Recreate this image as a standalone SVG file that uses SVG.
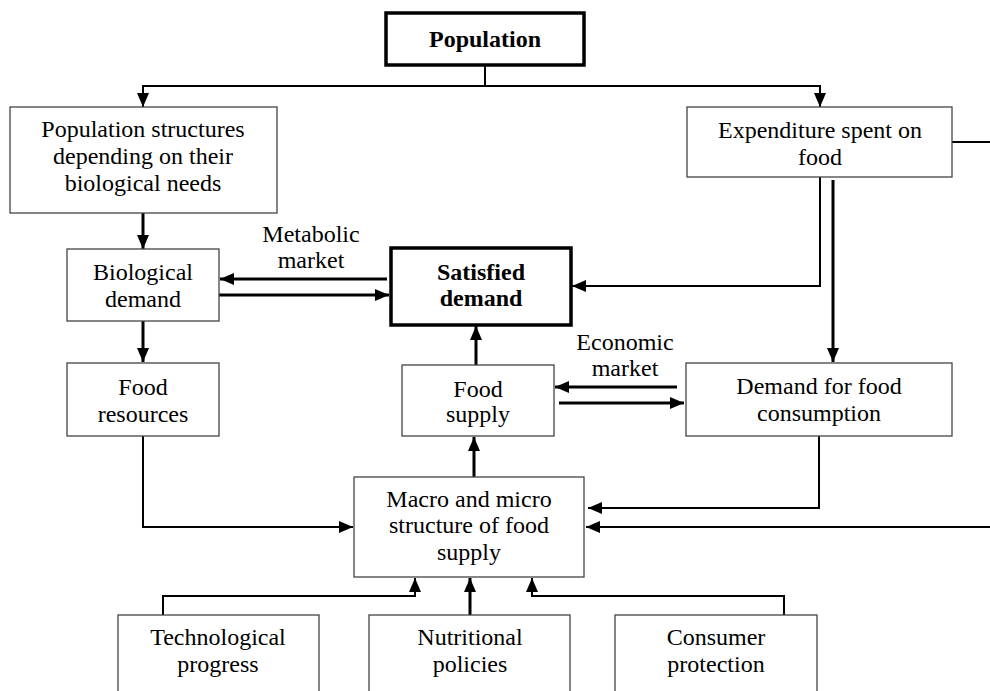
<svg xmlns="http://www.w3.org/2000/svg" width="990" height="691" viewBox="0 0 990 691">
<style>
text{font-family:'Liberation Serif','Tinos','DejaVu Serif',serif;font-size:24px;fill:#000;text-anchor:middle}
.b{font-weight:bold}
.box{fill:#fff;stroke:#444;stroke-width:1.3}
.tbox{fill:#fff;stroke:#000;stroke-width:3.5}
.c{fill:none;stroke:#000;stroke-width:2}
.ct{fill:none;stroke:#000;stroke-width:3}
</style>
<defs>
<marker id="ah" viewBox="0 0 14 12" refX="14" refY="6" markerWidth="14" markerHeight="12" markerUnits="userSpaceOnUse" orient="auto"><path d="M0,0L14,6L0,12z" fill="#000"/></marker>
</defs>
<rect width="990" height="691" fill="#fff"/>
<g id="connectors">
<path class="c" d="M485,65V86"/>
<path class="c" d="M485,86H143V107" marker-end="url(#ah)"/>
<path class="c" d="M485,86H820V107" marker-end="url(#ah)"/>
<path class="ct" d="M143,213V249" marker-end="url(#ah)"/>
<path class="ct" d="M387,279H220" marker-end="url(#ah)"/>
<path class="ct" d="M219,295H389" marker-end="url(#ah)"/>
<path class="c" d="M820,177V286H572" marker-end="url(#ah)"/>
<path class="ct" d="M833,180V362" marker-end="url(#ah)"/>
<path class="c" d="M952,142H1000V527H586" marker-end="url(#ah)"/>
<path class="ct" d="M143,321V362" marker-end="url(#ah)"/>
<path class="ct" d="M476,365V326" marker-end="url(#ah)"/>
<path class="ct" d="M677,387H555" marker-end="url(#ah)"/>
<path class="ct" d="M559,403H684" marker-end="url(#ah)"/>
<path class="c" d="M819,436V508H588" marker-end="url(#ah)"/>
<path class="c" d="M143,436V527H353" marker-end="url(#ah)"/>
<path class="ct" d="M474,477V437" marker-end="url(#ah)"/>
<path class="c" d="M163,615V596H415V578" marker-end="url(#ah)"/>
<path class="ct" d="M470,615V578" marker-end="url(#ah)"/>
<path class="c" d="M784,615V596H532V578" marker-end="url(#ah)"/>
</g>
<g id="lbl-metabolic"><text x="311" y="242">Metabolic</text><text x="311" y="268">market</text></g>
<g id="lbl-economic"><text x="625" y="350">Economic</text><text x="625" y="376">market</text></g>
<g id="population"><rect class="tbox" x="386" y="13" width="198" height="52"/><text class="b" x="485" y="47">Population</text></g>
<g id="popstruct"><rect class="box" x="10" y="107" width="267" height="106"/><text x="143" y="137">Population structures</text><text x="143" y="164">depending on their</text><text x="143" y="191">biological needs</text></g>
<g id="expenditure"><rect class="box" x="687" y="107" width="265" height="70"/><text x="820" y="138">Expenditure spent on</text><text x="820" y="165">food</text></g>
<g id="biodemand"><rect class="box" x="67" y="249" width="152" height="72"/><text x="143" y="280">Biological</text><text x="143" y="307">demand</text></g>
<g id="satisfied"><rect class="tbox" x="391" y="248" width="180" height="77"/><text class="b" x="481" y="280">Satisfied</text><text class="b" x="481" y="306">demand</text></g>
<g id="foodres"><rect class="box" x="67" y="363" width="152" height="73"/><text x="143" y="395">Food</text><text x="143" y="422">resources</text></g>
<g id="foodsupply"><rect class="box" x="402" y="365" width="152" height="71"/><text x="478" y="397">Food</text><text x="478" y="422">supply</text></g>
<g id="demandfood"><rect class="box" x="686" y="363" width="266" height="73"/><text x="819" y="394">Demand for food</text><text x="819" y="421">consumption</text></g>
<g id="macro"><rect class="box" x="354" y="477" width="230" height="100"/><text x="469" y="507">Macro and micro</text><text x="469" y="533">structure of food</text><text x="469" y="560">supply</text></g>
<g id="tech"><rect class="box" x="118" y="615" width="201" height="100"/><text x="218" y="645">Technological</text><text x="218" y="672">progress</text></g>
<g id="nutri"><rect class="box" x="369" y="615" width="201" height="100"/><text x="470" y="645">Nutritional</text><text x="470" y="672">policies</text></g>
<g id="consumer"><rect class="box" x="615" y="615" width="202" height="100"/><text x="716" y="645">Consumer</text><text x="716" y="672">protection</text></g>
</svg>
